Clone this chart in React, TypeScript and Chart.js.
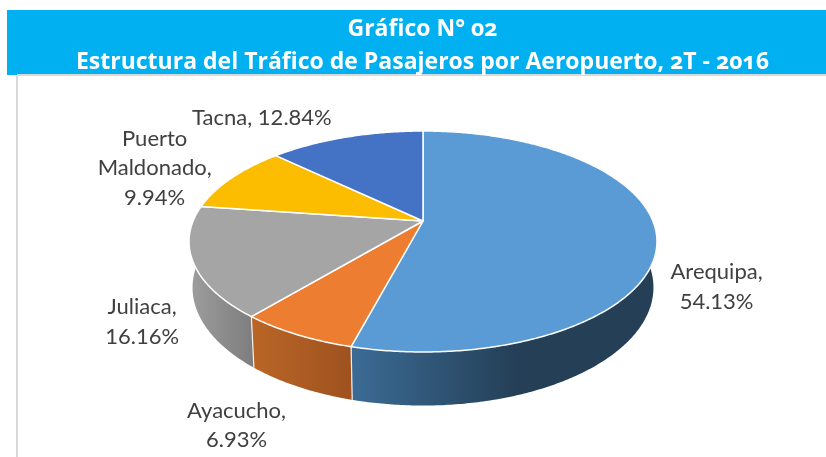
import React, { useEffect, useRef } from "react";
import { Chart, registerables } from "chart.js";

Chart.register(...registerables);

const titleLines = ["Gráfico N° 02", "Estructura del Tráfico de Pasajeros por Aeropuerto, 2T - 2016"];
const categories = ["Arequipa", "Ayacucho", "Juliaca", "Puerto Maldonado", "Tacna"];
const shares = [54.13, 6.93, 16.16, 9.94, 12.84];
const topColors = ["#5b9bd5", "#ed7d31", "#a5a5a5", "#fcbc00", "#4472c4"];
const wallFrom = ["#3b6b95", "#b96527", "#9c9c9c", "#997300", "#2a4a80"];
const wallTo = ["#243f56", "#9e521f", "#7d7d7d", "#997300", "#2a4a80"];
const labelWrap = [100, 100, 100, 110, 200];
const labelDx = [60, -60, -51, -77, -84];
const labelDy = [52, 91, 60, -10, -19];

const LABEL_FONT = '22px "Lato"';
const LABEL_LINE = 29.5;
const PERSPECTIVE = -0.1855;
const Y_SQUASH = 65.7 / 229.9;
const RADIUS = 229.9;
const BASE_SCALE = 0.985;
const BASE_DROP = 44.6;

function project(cx: number, cy: number, r: number, angle: number, base: boolean) {
  const u = Math.cos(angle);
  const v = Math.sin(angle);
  const w = 1 + PERSPECTIVE * v;
  const s = base ? BASE_SCALE : 1;
  return {
    x: cx + (s * r * u) / w,
    y: (s * r * Y_SQUASH * v + cy + (base ? BASE_DROP : 0)) / w,
  };
}

function rim(ctx: CanvasRenderingContext2D, cx: number, cy: number, r: number, a0: number, a1: number, base: boolean, move: boolean) {
  const steps = Math.max(4, Math.ceil(Math.abs(a1 - a0) / 0.01));
  for (let i = 0; i <= steps; i++) {
    const p = project(cx, cy, r, a0 + ((a1 - a0) * i) / steps, base);
    if (i === 0 && move) ctx.moveTo(p.x, p.y);
    else ctx.lineTo(p.x, p.y);
  }
}

const tiltedPie = {
  id: "tiltedPie",
  beforeDraw(chart: any) {
    const { ctx } = chart;
    ctx.save();
    ctx.fillStyle = "#d9d9d9";
    ctx.fillRect(16, 74, 810, 2);
    ctx.fillRect(16, 74, 2, 383);
    ctx.fillStyle = "#00b0f0";
    ctx.fillRect(7, 10, 819, 64);
    ctx.fillRect(7, 74, 10, 1);
    ctx.restore();
  },
  beforeDatasetDraw(chart: any) {
    const { ctx } = chart;
    const arcs = chart.getDatasetMeta(0).data as any[];
    ctx.save();
    ctx.lineJoin = "round";

    // side walls, painted first so the top face hides the rear of them
    arcs.forEach((arc, i) => {
      const { x, y, outerRadius: r, startAngle: a0, endAngle: a1 } = arc;
      const xs: number[] = [];
      for (let t = 0; t <= 40; t++) {
        const a = a0 + ((a1 - a0) * t) / 40;
        if (Math.sin(a) > 0) xs.push(project(x, y, r, a, true).x);
      }
      if (!xs.length) return;
      const left = Math.min(...xs);
      const right = Math.max(...xs);
      const g = ctx.createLinearGradient(left, 0, i === 0 ? left + 166 : right, 0);
      g.addColorStop(0, wallFrom[i]);
      g.addColorStop(1, wallTo[i]);
      ctx.beginPath();
      rim(ctx, x, y, r, a0, a1, false, true);
      rim(ctx, x, y, r, a1, a0, true, false);
      ctx.closePath();
      ctx.fillStyle = g;
      ctx.fill();
    });

    // separators on the front wall
    ctx.strokeStyle = "#f2f2f2";
    ctx.lineWidth = 1.2;
    arcs.forEach((arc) => {
      const { x, y, outerRadius: r, endAngle: a1 } = arc;
      if (Math.sin(a1) < 0.2) return;
      const p = project(x, y, r, a1, false);
      const q = project(x, y, r, a1, true);
      ctx.beginPath();
      ctx.moveTo(p.x, p.y);
      ctx.lineTo(q.x, q.y);
      ctx.stroke();
    });

    // top face
    arcs.forEach((arc, i) => {
      const { x, y, outerRadius: r, startAngle: a0, endAngle: a1 } = arc;
      ctx.beginPath();
      ctx.moveTo(x, y);
      rim(ctx, x, y, r, a0, a1, false, false);
      ctx.closePath();
      ctx.fillStyle = topColors[i];
      ctx.fill();
      ctx.strokeStyle = "#ffffff";
      ctx.lineWidth = 1.5;
      ctx.stroke();
    });

    // data labels
    ctx.font = LABEL_FONT;
    ctx.fillStyle = "#404040";
    ctx.textAlign = "center";
    ctx.textBaseline = "middle";
    arcs.forEach((arc, i) => {
      const mid = (arc.startAngle + arc.endAngle) / 2;
      const p = project(arc.x, arc.y, arc.outerRadius, mid, false);
      const words = `${categories[i]}, ${shares[i].toFixed(2)}%`.split(" ");
      const rows: string[] = [];
      let row = "";
      words.forEach((w) => {
        const next = row ? `${row} ${w}` : w;
        if (row && ctx.measureText(next).width > labelWrap[i]) {
          rows.push(row);
          row = w;
        } else row = next;
      });
      rows.push(row);
      rows.forEach((text, k) => {
        const dy = (k - (rows.length - 1) / 2) * LABEL_LINE;
        ctx.fillText(text, p.x + labelDx[i], p.y + labelDy[i] + dy);
      });
    });
    ctx.restore();
    return false;
  },
};

export default function App() {
  const ref = useRef<HTMLCanvasElement>(null);
  useEffect(() => {
    const chart = new Chart(ref.current!, {
      type: "pie",
      data: {
        labels: categories,
        datasets: [{ data: shares, backgroundColor: topColors, radius: RADIUS }],
      },
      options: {
        responsive: false,
        animation: false,
        layout: { padding: { left: 20, right: 0, top: 75, bottom: 90 } },
        plugins: { legend: { display: false }, tooltip: { enabled: false }, title: { display: false } },
      },
      plugins: [tiltedPie],
    } as any);
    return () => chart.destroy();
  }, []);
  return (
    <div style={{ position: "absolute", left: 0, top: 0, width: 826, height: 457, overflow: "hidden", background: "#fff" }}>
      <canvas ref={ref} width={826} height={457} style={{ position: "absolute", left: 0, top: 0 }} />
      <div
        style={{
          position: "absolute",
          left: 0,
          top: 11,
          width: 845,
          textAlign: "center",
          color: "#fff",
          fontFamily: '"Open Sans"',
          fontWeight: 700,
          fontSize: 23,
          lineHeight: "33px",
          fontVariantNumeric: "oldstyle-nums",
        }}
      >
        {titleLines.map((t) => (
          <div key={t}>{t}</div>
        ))}
      </div>
    </div>
  );
}
